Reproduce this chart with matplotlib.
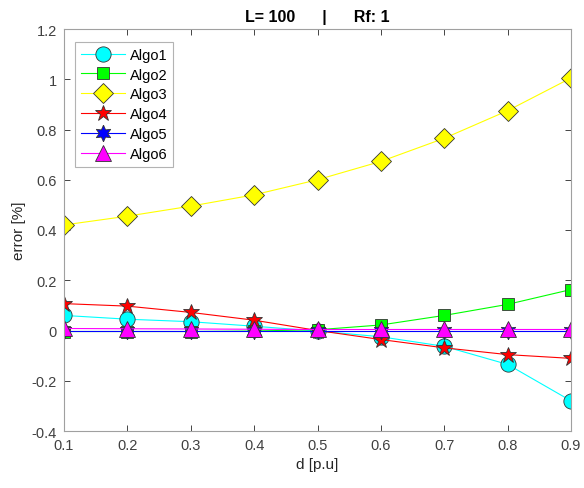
import matplotlib
matplotlib.use('Agg')
import matplotlib.pyplot as plt

plt.rcParams['font.family'] = ['Liberation Sans', 'DejaVu Sans']

d = [0.1, 0.2, 0.3, 0.4, 0.5, 0.6, 0.7, 0.8, 0.9]
algo1 = [0.060, 0.045, 0.035, 0.017, -0.002, -0.025, -0.063, -0.135, -0.280]
algo2 = [-0.004, -0.004, -0.004, -0.002, 0.003, 0.022, 0.060, 0.104, 0.163]
algo3 = [0.420, 0.455, 0.495, 0.540, 0.600, 0.673, 0.765, 0.875, 1.005]
algo4 = [0.107, 0.097, 0.072, 0.041, 0.000, -0.036, -0.069, -0.096, -0.111]
algo5 = [0.0, 0.0, 0.0, 0.0, 0.0, 0.0, 0.0, 0.0, 0.0]
algo6 = [0.008, 0.007, 0.006, 0.005, 0.004, 0.004, 0.004, 0.004, 0.004]
names = ['Algo1', 'Algo2', 'Algo3', 'Algo4', 'Algo5', 'Algo6']

series = [algo1, algo2, algo3, algo4, algo5, algo6]
colors = ['cyan', '#00ff00', 'yellow', 'red', 'blue', 'magenta']
markers = ['o', 's', 'D', '*', (6, 1, 0), '^']
msizes = [11, 9, 10, 12, 12, 12]

fig = plt.figure(figsize=(5.84, 4.89), dpi=100)
ax = fig.add_axes([64 / 584, 57 / 489, 507 / 584, 402 / 489])

# zero reference line
ax.plot(d, algo5, color='#555555', linestyle=(0, (4, 2)), linewidth=0.7, zorder=1.5)

for y, c, m, ms, name in zip(series, colors, markers, msizes, names):
    ax.plot(d, y, color=c, linewidth=0.8, marker=m, markersize=ms,
            markerfacecolor=c, markeredgecolor='#333333', markeredgewidth=0.6,
            label=name)

ax.set_xlim(0.1, 0.9)
ax.set_ylim(-0.4, 1.2)
ax.set_xticks(d)
ax.set_xticklabels(['0.1', '0.2', '0.3', '0.4', '0.5', '0.6', '0.7', '0.8', '0.9'])
yt = [-0.4, -0.2, 0, 0.2, 0.4, 0.6, 0.8, 1.0, 1.2]
ax.set_yticks(yt)
ax.set_yticklabels(['-0.4', '-0.2', '0', '0.2', '0.4', '0.6', '0.8', '1', '1.2'])
ax.tick_params(direction='in', length=4, labelsize=10.5, colors='#262626',
               labelcolor='#404040', top=True, right=True, width=0.6, pad=5)
for s in ax.spines.values():
    s.set_color('#a0a0a0')
    s.set_linewidth(0.8)

ax.set_xlabel('d [p.u]', fontsize=11, color='#262626')
ax.set_ylabel('error [%]', fontsize=11, color='#262626')
ax.set_title('L= 100      |      Rf: 1', fontsize=11.5, fontweight='bold', pad=6)

leg = ax.legend(loc='upper left', bbox_to_anchor=(0.022, 0.968), fancybox=False,
                edgecolor='#a0a0a0', fontsize=10.5, handlelength=3.0,
                borderpad=0.4, labelspacing=0.4, handletextpad=0.35,
                borderaxespad=0)
leg.get_frame().set_linewidth(0.8)

fig.savefig('out.png', dpi=100)
